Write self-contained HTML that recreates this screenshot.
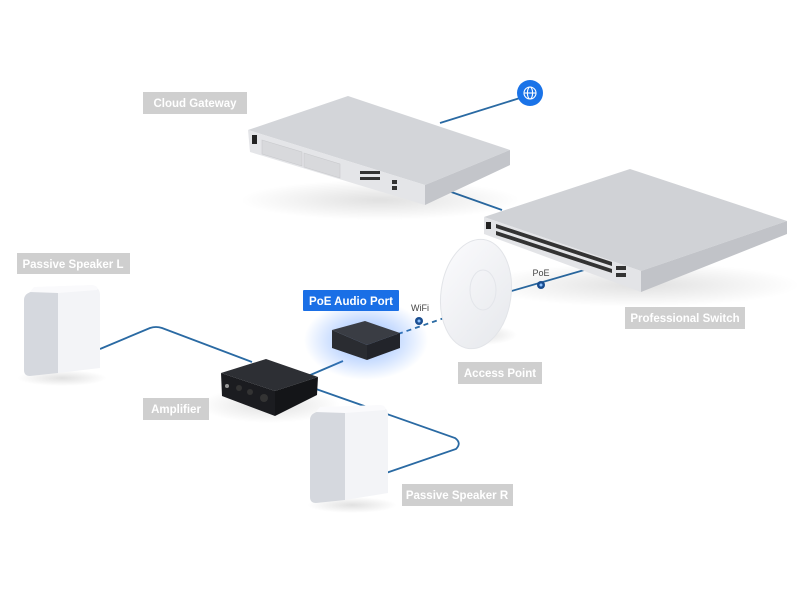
<!DOCTYPE html>
<html><head><meta charset="utf-8"><style>
html,body{margin:0;padding:0;background:#fff;width:800px;height:600px;overflow:hidden}
svg{display:block}
text{font-family:"Liberation Sans",sans-serif}
</style></head><body>
<svg width="800" height="600" viewBox="0 0 800 600" xmlns="http://www.w3.org/2000/svg">
<defs>
<radialGradient id="glow" cx="50%" cy="50%" r="50%">
<stop offset="0" stop-color="#2f7bff" stop-opacity="0.55"/>
<stop offset="0.6" stop-color="#4a8cff" stop-opacity="0.25"/>
<stop offset="1" stop-color="#4a8cff" stop-opacity="0"/>
</radialGradient>
<radialGradient id="shadow" cx="50%" cy="50%" r="50%">
<stop offset="0" stop-color="#000" stop-opacity="0.12"/>
<stop offset="1" stop-color="#000" stop-opacity="0"/>
</radialGradient>
<linearGradient id="apg" x1="0" y1="0" x2="1" y2="1">
<stop offset="0" stop-color="#fbfbfd"/><stop offset="1" stop-color="#e6e8ec"/>
</linearGradient>
</defs>

<!-- connectors -->
<g stroke="#2a6aa3" stroke-width="1.8" fill="none">
<line x1="440" y1="123" x2="520" y2="98"/>
<line x1="440" y1="188" x2="502" y2="210"/>
<line x1="508" y1="292" x2="605" y2="264"/>
<path d="M100,349 L150,328 Q156,326 162,328 L252,362"/>
<line x1="308" y1="376" x2="343" y2="361"/>
<path d="M316,389 L455,438 Q462,443 456,449 L386,473"/>
<line x1="398" y1="334" x2="450" y2="316" stroke-dasharray="5,4"/>
</g>

<!-- globe -->
<circle cx="530" cy="93" r="13" fill="#1a73e8"/>
<g stroke="#fff" stroke-width="1.1" fill="none">
<circle cx="530" cy="93" r="6"/><ellipse cx="530" cy="93" rx="2.6" ry="6"/>
<line x1="524" y1="93" x2="536" y2="93"/>
</g>

<!-- gateway -->
<ellipse cx="380" cy="200" rx="140" ry="20" fill="url(#shadow)"/>
<polygon points="248,130 348,96 510,150 425,185" fill="#d3d5d9"/>
<polygon points="248,130 425,185 425,205 250,152" fill="#e4e5e8"/>
<polygon points="425,185 510,150 510,165 425,205" fill="#c3c5ca"/>
<rect x="252" y="135" width="5" height="9" fill="#222"/>
<polygon points="262,140 302,152 302,166 262,154" fill="#d8d9dc" stroke="#c8c9cc" stroke-width="0.6"/>
<polygon points="304,153 340,164 340,178 304,167" fill="#d8d9dc" stroke="#c8c9cc" stroke-width="0.6"/>
<g fill="#333"><rect x="360" y="171" width="20" height="3"/><rect x="360" y="177" width="20" height="3"/><rect x="392" y="180" width="5" height="4"/><rect x="392" y="186" width="5" height="4"/></g>

<!-- switch -->
<ellipse cx="640" cy="285" rx="160" ry="22" fill="url(#shadow)"/>
<polygon points="484,217 630,169 787,221 641,271" fill="#d0d2d6"/>
<polygon points="484,217 641,271 641,292 484,234" fill="#e3e4e7"/>
<polygon points="641,271 787,221 787,234 641,292" fill="#c1c3c8"/>
<rect x="486" y="222" width="5" height="7" fill="#222"/>
<polygon points="496,224 612,262 612,266 496,228" fill="#333"/>
<polygon points="496,231 612,269 612,273 496,235" fill="#333"/>
<g fill="#333"><rect x="616" y="266" width="10" height="4"/><rect x="616" y="273" width="10" height="4"/></g>

<!-- access point -->
<ellipse cx="482" cy="335" rx="35" ry="10" fill="url(#shadow)"/>
<ellipse cx="476" cy="294" rx="35" ry="55" transform="rotate(8 476 294)" fill="url(#apg)" stroke="#e2e4e8" stroke-width="1"/>
<ellipse cx="483" cy="290" rx="13" ry="20" fill="none" stroke="#e3e5ea" stroke-width="1"/>

<!-- PoE dot -->
<circle cx="541" cy="285" r="4" fill="#1a4d8f"/><circle cx="541" cy="285" r="1.5" fill="#8cc2ff"/>
<text x="541" y="276" font-size="9" fill="#444" text-anchor="middle">PoE</text>
<!-- WiFi dot -->
<circle cx="419" cy="321" r="4" fill="#1a4d8f"/><circle cx="419" cy="321" r="1.5" fill="#8cc2ff"/>
<text x="420" y="311" font-size="9" fill="#444" text-anchor="middle">WiFi</text>

<!-- audio port -->
<ellipse cx="366" cy="340" rx="62" ry="40" fill="url(#glow)"/>
<polygon points="332,330 365,321 400,333 367,345" fill="#3a3d44"/>
<polygon points="332,330 367,345 367,360 332,348" fill="#2a2c31"/>
<polygon points="367,345 400,333 400,348 367,360" fill="#22242a"/>

<!-- amplifier -->
<ellipse cx="270" cy="405" rx="70" ry="18" fill="url(#shadow)"/>
<polygon points="221,373 266,359 318,377 275,391" fill="#2d2f34"/>
<polygon points="221,373 275,391 275,416 222,396" fill="#1b1c20"/>
<polygon points="275,391 318,377 317,395 275,416" fill="#141518"/>
<circle cx="227" cy="386" r="2" fill="#999"/><circle cx="239" cy="388" r="3" fill="#333"/><circle cx="250" cy="392" r="3" fill="#333"/><circle cx="264" cy="398" r="4" fill="#333"/>

<!-- speaker L -->
<ellipse cx="62" cy="378" rx="45" ry="8" fill="url(#shadow)"/>
<path d="M58,292 L92,287 Q100,287 100,295 L100,368 L58,373 Z" fill="#f3f4f7"/>
<path d="M24,300 Q24,293 34,291 L58,292 L58,373 L30,376 Q24,376 24,370 Z" fill="#d5d8de"/>
<path d="M34,287 L92,285 Q99,286 97,290 L58,293 L30,292 Z" fill="#fafafc"/>

<!-- speaker R -->
<ellipse cx="352" cy="505" rx="45" ry="8" fill="url(#shadow)"/>
<path d="M345,412 L380,407 Q388,407 388,415 L388,493 L345,500 Z" fill="#f3f4f7"/>
<path d="M310,420 Q310,413 320,411 L345,412 L345,500 L316,503 Q310,503 310,497 Z" fill="#d5d8de"/>
<path d="M320,407 L380,405 Q387,406 385,410 L345,413 L316,412 Z" fill="#fafafc"/>

<!-- labels -->
<g font-size="11.5" font-weight="bold" fill="#fff">
<rect x="143" y="92" width="104" height="22" fill="#cfcfcf"/><text x="195" y="107" text-anchor="middle">Cloud Gateway</text>
<rect x="17" y="253" width="113" height="21" fill="#cfcfcf"/><text x="73" y="268" text-anchor="middle">Passive Speaker L</text>
<rect x="625" y="307" width="120" height="22" fill="#cfcfcf"/><text x="685" y="322" text-anchor="middle">Professional Switch</text>
<rect x="458" y="362" width="84" height="22" fill="#cfcfcf"/><text x="500" y="377" text-anchor="middle">Access Point</text>
<rect x="143" y="398" width="66" height="22" fill="#cfcfcf"/><text x="176" y="413" text-anchor="middle">Amplifier</text>
<rect x="402" y="484" width="111" height="22" fill="#cfcfcf"/><text x="457" y="499" text-anchor="middle">Passive Speaker R</text>
<rect x="303" y="290" width="96" height="21" rx="1" fill="#1a6fe6"/><text x="351" y="305" text-anchor="middle">PoE Audio Port</text>
</g>
</svg>
</body></html>
